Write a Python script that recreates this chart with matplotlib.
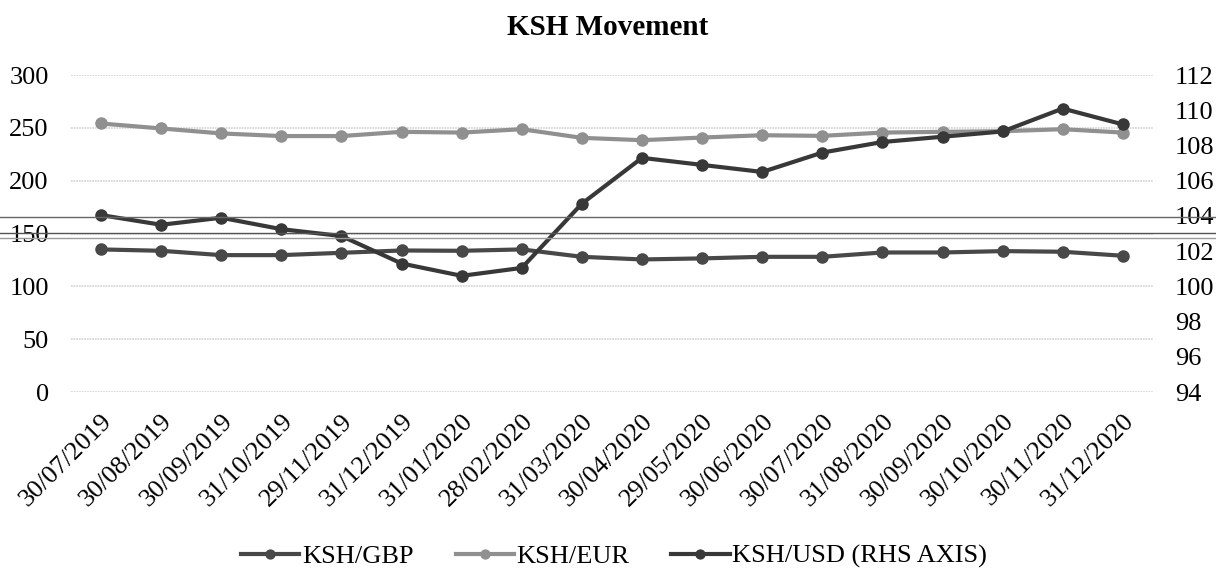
import matplotlib.pyplot as plt
from matplotlib.lines import Line2D

plt.rcParams['font.family'] = ['Liberation Serif', 'DejaVu Serif']

dates = ['30/07/2019', '30/08/2019', '30/09/2019', '31/10/2019', '29/11/2019',
         '31/12/2019', '31/01/2020', '28/02/2020', '31/03/2020', '30/04/2020',
         '29/05/2020', '30/06/2020', '30/07/2020', '31/08/2020', '30/09/2020',
         '30/10/2020', '30/11/2020', '31/12/2020']

ksh_gbp = [135.0, 133.7, 129.6, 129.6, 131.8, 134.0, 133.7, 135.0, 128.0,
           125.5, 126.5, 128.0, 128.0, 132.1, 132.1, 133.4, 132.8, 129.0]
ksh_eur = [254.2, 249.5, 244.8, 242.3, 242.3, 246.3, 245.6, 248.8, 240.6,
           238.4, 240.9, 243.1, 242.5, 245.6, 246.3, 246.9, 248.8, 245.6]
ksh_usd = [104.05, 103.5, 103.9, 103.25, 102.86, 101.3, 100.6, 101.05, 104.7,
           107.3, 106.9, 106.5, 107.6, 108.2, 108.5, 108.8, 110.1, 109.2]

c_gbp = '#484848'
c_eur = '#909090'
c_usd = '#383838'

fig = plt.figure(figsize=(12.16, 5.69), dpi=100)
ax = fig.add_axes([0.0584, 0.311, 0.8897, 0.557])
ax2 = ax.twinx()

x = list(range(len(dates)))
style = dict(lw=3.0, marker='o', ms=8)
l1, = ax.plot(x, ksh_gbp, color=c_gbp, label='KSH/GBP', zorder=3, **style)
l2, = ax.plot(x, ksh_eur, color=c_eur, label='KSH/EUR', zorder=2, **style)
l3, = ax2.plot(x, ksh_usd, color=c_usd, label='KSH/USD (RHS AXIS)', **style)

ax.set_xlim(-0.5, len(dates) - 0.5)
ax.set_ylim(0, 300)
ax.set_yticks(range(0, 301, 50))
ax2.set_ylim(94, 112)
ax2.set_yticks(range(94, 113, 2))

ax.grid(axis='y', color='#d2d2d2', lw=1.2, ls=(0, (1, 0.6)))
ax.set_axisbelow(True)
for a in (ax, ax2):
    for s in a.spines.values():
        s.set_visible(False)
    a.tick_params(length=0, labelsize=19)
ax.tick_params(axis='y', pad=16)
ax2.tick_params(axis='y', pad=16)

ax.set_xticks(x)
ax.set_xticklabels(dates, rotation=45, ha='right', rotation_mode='anchor')
ax.tick_params(axis='x', pad=13)

fig.text(0.5, 0.951, 'KSH Movement', ha='center', va='center',
         fontsize=21, fontweight='bold')

fig.legend(handles=[l1, l2, l3], loc='center', bbox_to_anchor=(0.505, 0.022),
           ncol=3, frameon=False, fontsize=19, handlelength=2.2,
           handletextpad=0.1, columnspacing=1.6, borderaxespad=0,
           markerscale=0.8)

# scanner streaks across the page
for yy, cc in [(216.5, '#666666'), (233.0, '#555555'), (237.5, '#9a9a9a')]:
    fig.add_artist(Line2D([0, 1], [1 - yy / 569, 1 - yy / 569], color=cc, lw=1.0))

plt.savefig('out.png', dpi=100)
